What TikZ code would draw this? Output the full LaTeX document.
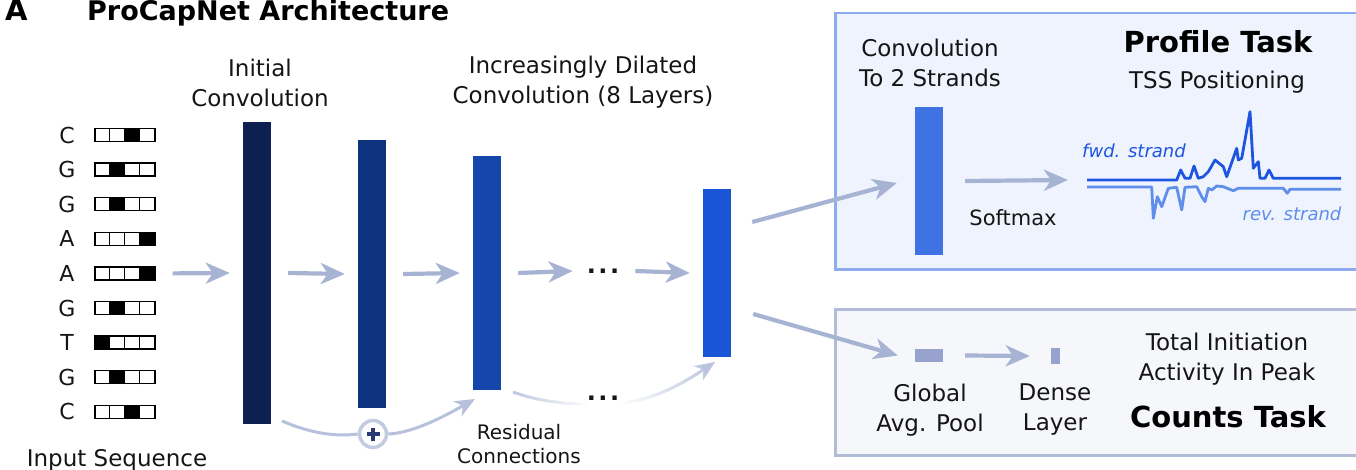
\documentclass[tikz,border=0pt]{standalone}
\usepackage{fontspec}
\setmainfont{DejaVu Sans}
\usetikzlibrary{arrows.meta,fadings}
\definecolor{arrc}{HTML}{A7B3D3}
\definecolor{resc}{HTML}{B7C1DC}
\definecolor{ringc}{HTML}{C3CBE3}
\definecolor{barA}{HTML}{0C2150}
\definecolor{barB}{HTML}{0E337E}
\definecolor{barC}{HTML}{1446AB}
\definecolor{barD}{HTML}{1A55D6}
\definecolor{barE}{HTML}{3F72E3}
\definecolor{poolc}{HTML}{97A2CF}
\definecolor{pfill}{HTML}{EEF3FD}
\definecolor{pline}{HTML}{8FABEF}
\definecolor{cfill}{HTML}{F5F7FB}
\definecolor{cline}{HTML}{B2BCD9}
\definecolor{fwdc}{HTML}{1D55E0}
\definecolor{revc}{HTML}{5F8FEA}
\definecolor{plusc}{HTML}{2B3A75}
\definecolor{txt}{HTML}{151515}
\tikzfading[name=fadeR, left color=transparent!10, right color=transparent!100]
\tikzfading[name=fadeL, left color=transparent!100, right color=transparent!0]
\begin{document}
\begin{tikzpicture}[x=1pt,y=-1pt,
  lbl/.style={font=\fontsize{23}{30}\selectfont, align=center, inner sep=0pt, text=txt},
  small/.style={font=\fontsize{20}{24}\selectfont, align=center, inner sep=0pt, text=txt},
  ttl/.style={font=\fontsize{29}{34}\selectfont\bfseries, inner sep=0pt, text=black},
  bar/.style={rectangle, inner sep=0pt, minimum width=28pt, draw=none},
  arr/.style={draw=arrc, line width=4.2pt, -{Stealth[length=24pt,width=21pt,inset=7pt]}},
  resarr/.style={draw=resc, line width=3pt},
  seqbox/.style={rectangle, draw=black, line width=1.3pt, minimum width=60pt, minimum height=13pt, inner sep=0pt},
  seqlet/.style={font=\fontsize{22}{26}\selectfont, inner sep=0pt, text=txt},
  strandlbl/.style={font=\fontsize{18}{22}\selectfont\itshape, inner sep=0pt},
  trace/.style={line width=2.8pt, line join=round},
  dotlbl/.style={font=\fontsize{24}{30}\selectfont\bfseries, inner sep=0pt, text=txt}
]
\useasboundingbox (0,0) rectangle (1356,470);

% title
\node[anchor=base west, font=\fontsize{29}{34}\selectfont\bfseries, inner sep=0pt] (tA) at (5,21) {A};
\node[anchor=base west, font=\fontsize{27}{32}\selectfont\bfseries, inner sep=0pt] (tT) at (87,21) {ProCapNet Architecture};

% input sequence
\foreach \i/\L/\k in {1/C/2,2/G/1,3/G/1,4/A/3,5/A/3,6/G/1,7/T/0,8/G/1,9/C/2}{
  \pgfmathsetmacro\yy{135+(\i-1)*34.6}
  \node[seqlet] (l\i) at (67,\yy) {\L};
  \node[seqbox] (s\i) at (125,\yy) {};
  \fill ([xshift={15*\k}]s\i.south west) rectangle ([xshift={15*(\k+1)}]s\i.north west);
  \foreach \j in {1,2,3}{
    \draw[line width=1.3pt] ([xshift={15*\j}]s\i.south west) -- ([xshift={15*\j}]s\i.north west);
  }
}
\node[lbl] (inlbl) at (117,460) {Input Sequence};

% bars
\node[bar, fill=barA, minimum height=302pt] (b1) at (257,273) {};
\node[bar, fill=barB, minimum height=268pt] (b2) at (372,274) {};
\node[bar, fill=barC, minimum height=234pt] (b3) at (487,273) {};
\node[bar, fill=barD, minimum height=168pt] (b4) at (717,273) {};
\node[dotlbl] (dots) at (603,271) {.\kern2.5pt.\kern2.5pt.};

\node[lbl] (initlbl) at (260,83) {Initial\\Convolution};
\node[lbl] (dillbl) at (583,82) {Increasingly Dilated\\Convolution (8 Layers)};

% main arrows
\draw[arr] ([xshift=17]s5.east) -- ([xshift=-13]b1.west);
\draw[arr] ([xshift=17]b1.east) -- ([xshift=-13]b2.west);
\draw[arr] ([xshift=17]b2.east) -- ([xshift=-13]b3.west);
\draw[arr] ([xshift=17]b3.east) -- ([xshift=-14]dots.west);
\draw[arr] ([xshift=16]dots.east) -- ([xshift=-13]b4.west);

% residual connections
\node[circle, draw=ringc, line width=3.5pt, fill=white, minimum size=27pt, inner sep=0pt] (plus) at (373,434) {};
\draw[plusc, line width=3.2pt] ([xshift=-6.5]plus.center) -- ([xshift=6.5]plus.center);
\draw[plusc, line width=3.2pt] ([yshift=-6.5]plus.center) -- ([yshift=6.5]plus.center);
\coordinate (r1s) at (282,421);
\coordinate (r1e) at (475,399);
\draw[resarr] (r1s) .. controls (310,433) and (335,437) .. (plus.west);
\draw[resarr, -{Stealth[length=20pt,width=17pt,inset=6pt]}] (plus.east) .. controls (415,433) and (450,413) .. (r1e);
\node[dotlbl] (dots2) at (603,398) {.\kern2.5pt.\kern2.5pt.};
\coordinate (r2s) at (513,392);
\coordinate (r2m) at (588,404);
\coordinate (r2n) at (620,403);
\coordinate (r2e) at (715,362);
\draw[resarr, path fading=fadeR] (r2s) .. controls (535,400) and (560,404) .. (r2m);
\draw[resarr, path fading=fadeL, -{Stealth[length=20pt,width=17pt,inset=6pt]}] (r2n) .. controls (655,400) and (685,382) .. (r2e);
\node[small] (reslbl) at (519,444) {Residual\\Connections};

% profile task box
\node[draw=pline, fill=pfill, line width=2.5pt, minimum width=540pt, minimum height=256pt, anchor=north west, inner sep=0pt] (pbox) at (834,12) {};
\node[bar, fill=barE, minimum height=148pt] (pb) at (929,181) {};
\node[lbl] (convlbl) at (930,63) {Convolution\\To 2 Strands};
\node[ttl] (proflbl) at (1218,42) {Profile Task};
\node[lbl] (tsslbl) at (1217,82) {TSS Positioning};
\node[lbl, font=\fontsize{21}{26}\selectfont] (softlbl) at (1013,218) {Softmax};
\coordinate (trk) at (1087,180);
\draw[arr] ([xshift=22]pb.east) -- ([xshift=-19]trk);
\draw[trace, fwdc] (trk) -- (1176.7,180) -- (1180.7,170) -- (1185,178.3) -- (1190,178.3) -- (1194,166) -- (1198.3,178.3) -- (1203.3,176.7) -- (1208.3,171.7) -- (1215,160) -- (1223.3,166.7) -- (1226.7,176.7) -- (1236.7,148.3) -- (1238.3,160) -- (1241.7,158.3) -- (1250,111.7) -- (1253.3,168.3) -- (1258.3,161.7) -- (1260,178.3) -- (1265,178.3) -- (1269,170) -- (1273.3,178.3) -- (1341,178.3);
\draw[trace, revc] (1087,187) -- (1151.7,187) -- (1153.3,218.3) -- (1157.3,196.7) -- (1161.7,206.7) -- (1168.3,188.3) -- (1176.7,187.3) -- (1181.7,210) -- (1185,187.3) -- (1196.7,186.7) -- (1201.7,196.7) -- (1205,201.7) -- (1208.3,188.3) -- (1211.7,190) -- (1216.7,186) -- (1223.3,186.7) -- (1233.3,190.7) -- (1238.3,188.3) -- (1283.3,188.3) -- (1287.3,193.3) -- (1290,189.3) -- (1341,189.3);
\node[strandlbl, text=fwdc] (fwdlbl) at (1134,151) {fwd. strand};
\node[strandlbl, text=revc] (revlbl) at (1292,214) {rev. strand};

% counts task box
\node[draw=cline, fill=cfill, line width=2.5pt, minimum width=540pt, minimum height=146pt, anchor=north west, inner sep=0pt] (cbox) at (834,308) {};
\node[rectangle, fill=poolc, minimum width=28pt, minimum height=13pt, inner sep=0pt] (pool) at (929,355.5) {};
\node[rectangle, fill=poolc, minimum width=9pt, minimum height=16pt, inner sep=0pt] (dense) at (1055.5,356) {};
\draw[arr] ([xshift=22]pool.east) -- ([xshift=-21]dense.west);
\node[lbl] (poollbl) at (930,410) {Global\\Avg. Pool};
\node[lbl] (denselbl) at (1055,410) {Dense\\Layer};
\node[lbl] (totlbl) at (1227,359) {Total Initiation\\Activity In Peak};
\node[ttl] (cntlbl) at (1228,417) {Counts Task};

% arrows from last bar into the task heads
\draw[arr] ([xshift=21, yshift=51]b4.east) -- ([xshift=-18, yshift=-2]pb.west);
\draw[arr] ([xshift=22, yshift=-41]b4.east) -- ([xshift=-17]pool.west);
\end{tikzpicture}
\end{document}
